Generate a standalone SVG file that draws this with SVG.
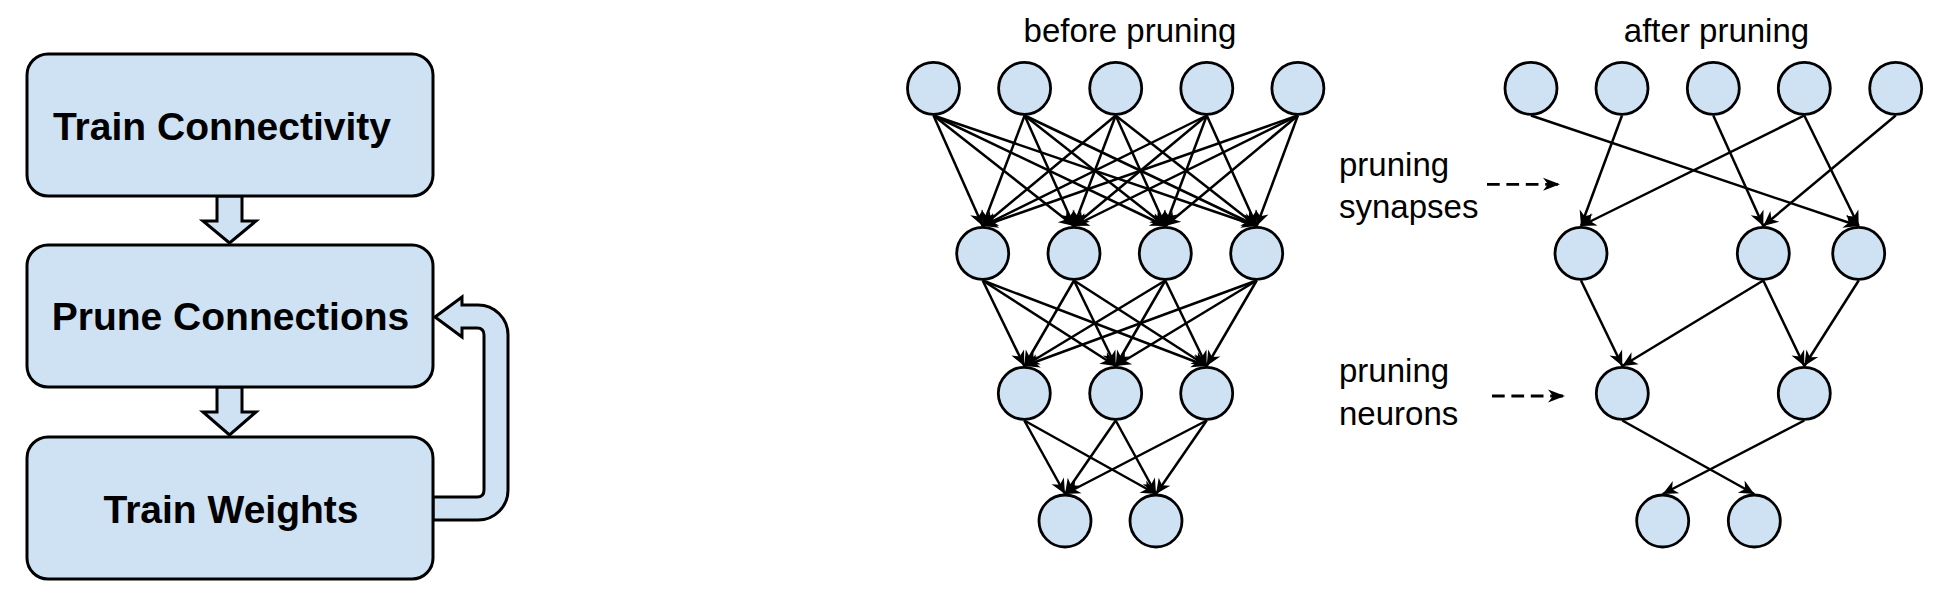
<svg xmlns="http://www.w3.org/2000/svg" width="1956" height="593" viewBox="0 0 1956 593">
<style>
.box{fill:#cfe2f3;stroke:#000;stroke-width:3}
.blk{fill:#cfe2f3;stroke:#000;stroke-width:3;stroke-linejoin:miter}
.bt{font-family:"Liberation Sans",Arial,sans-serif;font-weight:bold;font-size:39px;fill:#000;text-anchor:middle}
.lt{font-family:"Liberation Sans",Arial,sans-serif;font-size:33px;fill:#000}
.n{fill:#cfe2f3;stroke:#000;stroke-width:2.8}
.e{stroke:#000;stroke-width:2.5;fill:none;marker-end:url(#ah)}
.d{stroke:#000;stroke-width:2.8;fill:none;stroke-dasharray:12.7 6.7;marker-end:url(#dh)}
</style>
<defs>
<marker id="ah" viewBox="-16 -8 17 16" markerWidth="17" markerHeight="16" refX="0" refY="0" orient="auto" markerUnits="userSpaceOnUse">
<path d="M0,0 L-15,-7 L-10.5,0 L-15,7 Z" fill="#000"/>
</marker>
<marker id="dh" viewBox="-19 -8 20 16" markerWidth="20" markerHeight="16" refX="0" refY="0" orient="auto" markerUnits="userSpaceOnUse">
<path d="M0,0 L-17,-6.5 L-12,0 L-17,6.5 Z" fill="#000"/>
</marker>
</defs>
<rect width="1956" height="593" fill="#fff"/>

<g id="flow-arrows">
<path class="blk" d="M433 497 L477 497 Q484 497 484 490 L484 335 Q484 328 477 328 L462 328 L462 337 L435 317 L462 297 L462 305 L478 305 A30 30 0 0 1 508 335 L508 490 A30 30 0 0 1 478 520 L433 520 Z"/>
<polygon class="blk" points="217,196 242,196 242,221 256,221 229.5,243 203,221 217,221"/>
<polygon class="blk" points="217,387 242,387 242,412 256,412 229.5,435 203,412 217,412"/>
</g>
<g id="box-train-connectivity">
<rect class="box" x="27" y="54" width="406" height="142" rx="21"/>
<text class="bt" x="222" y="139.5">Train Connectivity</text>
</g>
<g id="box-prune-connections">
<rect class="box" x="27" y="245" width="406" height="142" rx="21"/>
<text class="bt" x="230.5" y="330">Prune Connections</text>
</g>
<g id="box-train-weights">
<rect class="box" x="27" y="437" width="406" height="142" rx="21"/>
<text class="bt" x="231" y="523">Train Weights</text>
</g>

<g id="labels">
<text class="lt" x="1130" y="41.5" text-anchor="middle">before pruning</text>
<text class="lt" x="1716.5" y="41.5" text-anchor="middle">after pruning</text>
<text class="lt" x="1339" y="176">pruning</text>
<text class="lt" x="1339" y="218">synapses</text>
<text class="lt" x="1339" y="382">pruning</text>
<text class="lt" x="1339" y="425">neurons</text>
</g>

<g id="connectors">
<line class="e" x1="933.5" y1="115.5" x2="982.7" y2="226"/>
<line class="e" x1="933.5" y1="115.5" x2="1074" y2="226"/>
<line class="e" x1="933.5" y1="115.5" x2="1165.3" y2="226"/>
<line class="e" x1="933.5" y1="115.5" x2="1256.7" y2="226"/>
<line class="e" x1="1024.6" y1="115.5" x2="982.7" y2="226"/>
<line class="e" x1="1024.6" y1="115.5" x2="1074" y2="226"/>
<line class="e" x1="1024.6" y1="115.5" x2="1165.3" y2="226"/>
<line class="e" x1="1024.6" y1="115.5" x2="1256.7" y2="226"/>
<line class="e" x1="1115.7" y1="115.5" x2="982.7" y2="226"/>
<line class="e" x1="1115.7" y1="115.5" x2="1074" y2="226"/>
<line class="e" x1="1115.7" y1="115.5" x2="1165.3" y2="226"/>
<line class="e" x1="1115.7" y1="115.5" x2="1256.7" y2="226"/>
<line class="e" x1="1206.8" y1="115.5" x2="982.7" y2="226"/>
<line class="e" x1="1206.8" y1="115.5" x2="1074" y2="226"/>
<line class="e" x1="1206.8" y1="115.5" x2="1165.3" y2="226"/>
<line class="e" x1="1206.8" y1="115.5" x2="1256.7" y2="226"/>
<line class="e" x1="1297.9" y1="115.5" x2="982.7" y2="226"/>
<line class="e" x1="1297.9" y1="115.5" x2="1074" y2="226"/>
<line class="e" x1="1297.9" y1="115.5" x2="1165.3" y2="226"/>
<line class="e" x1="1297.9" y1="115.5" x2="1256.7" y2="226"/>
<line class="e" x1="982.7" y1="280.5" x2="1024.3" y2="366"/>
<line class="e" x1="982.7" y1="280.5" x2="1115.7" y2="366"/>
<line class="e" x1="982.7" y1="280.5" x2="1206.7" y2="366"/>
<line class="e" x1="1074" y1="280.5" x2="1024.3" y2="366"/>
<line class="e" x1="1074" y1="280.5" x2="1115.7" y2="366"/>
<line class="e" x1="1074" y1="280.5" x2="1206.7" y2="366"/>
<line class="e" x1="1165.3" y1="280.5" x2="1024.3" y2="366"/>
<line class="e" x1="1165.3" y1="280.5" x2="1115.7" y2="366"/>
<line class="e" x1="1165.3" y1="280.5" x2="1206.7" y2="366"/>
<line class="e" x1="1256.7" y1="280.5" x2="1024.3" y2="366"/>
<line class="e" x1="1256.7" y1="280.5" x2="1115.7" y2="366"/>
<line class="e" x1="1256.7" y1="280.5" x2="1206.7" y2="366"/>
<line class="e" x1="1024.3" y1="420.5" x2="1065" y2="494"/>
<line class="e" x1="1024.3" y1="420.5" x2="1156" y2="494"/>
<line class="e" x1="1115.7" y1="420.5" x2="1065" y2="494"/>
<line class="e" x1="1115.7" y1="420.5" x2="1156" y2="494"/>
<line class="e" x1="1206.7" y1="420.5" x2="1065" y2="494"/>
<line class="e" x1="1206.7" y1="420.5" x2="1156" y2="494"/>
<line class="e" x1="1531" y1="115.5" x2="1858.7" y2="226"/>
<line class="e" x1="1622" y1="115.5" x2="1581" y2="226"/>
<line class="e" x1="1713.3" y1="115.5" x2="1763.3" y2="226"/>
<line class="e" x1="1804.3" y1="115.5" x2="1581" y2="226"/>
<line class="e" x1="1804.3" y1="115.5" x2="1858.7" y2="226"/>
<line class="e" x1="1895.7" y1="115.5" x2="1763.3" y2="226"/>
<line class="e" x1="1581" y1="280.5" x2="1622.3" y2="366"/>
<line class="e" x1="1763.3" y1="280.5" x2="1622.3" y2="366"/>
<line class="e" x1="1763.3" y1="280.5" x2="1804.3" y2="366"/>
<line class="e" x1="1858.7" y1="280.5" x2="1804.3" y2="366"/>
<line class="e" x1="1622.3" y1="420.5" x2="1754.3" y2="494"/>
<line class="e" x1="1804.3" y1="420.5" x2="1662.7" y2="494"/>
<line class="d" x1="1487" y1="184.3" x2="1560" y2="184.3"/>
<line class="d" x1="1492" y1="396" x2="1565" y2="396"/>
</g>

<g id="before-l1-n1"><circle class="n" cx="933.5" cy="88.3" r="26"/></g>
<g id="before-l1-n2"><circle class="n" cx="1024.6" cy="88.3" r="26"/></g>
<g id="before-l1-n3"><circle class="n" cx="1115.7" cy="88.3" r="26"/></g>
<g id="before-l1-n4"><circle class="n" cx="1206.8" cy="88.3" r="26"/></g>
<g id="before-l1-n5"><circle class="n" cx="1297.9" cy="88.3" r="26"/></g>
<g id="before-l2-n1"><circle class="n" cx="982.7" cy="253.3" r="26"/></g>
<g id="before-l2-n2"><circle class="n" cx="1074" cy="253.3" r="26"/></g>
<g id="before-l2-n3"><circle class="n" cx="1165.3" cy="253.3" r="26"/></g>
<g id="before-l2-n4"><circle class="n" cx="1256.7" cy="253.3" r="26"/></g>
<g id="before-l3-n1"><circle class="n" cx="1024.3" cy="393.3" r="26"/></g>
<g id="before-l3-n2"><circle class="n" cx="1115.7" cy="393.3" r="26"/></g>
<g id="before-l3-n3"><circle class="n" cx="1206.7" cy="393.3" r="26"/></g>
<g id="before-l4-n1"><circle class="n" cx="1065" cy="521" r="26"/></g>
<g id="before-l4-n2"><circle class="n" cx="1156" cy="521" r="26"/></g>

<g id="after-l1-n1"><circle class="n" cx="1531" cy="88.3" r="26"/></g>
<g id="after-l1-n2"><circle class="n" cx="1622" cy="88.3" r="26"/></g>
<g id="after-l1-n3"><circle class="n" cx="1713.3" cy="88.3" r="26"/></g>
<g id="after-l1-n4"><circle class="n" cx="1804.3" cy="88.3" r="26"/></g>
<g id="after-l1-n5"><circle class="n" cx="1895.7" cy="88.3" r="26"/></g>
<g id="after-l2-n1"><circle class="n" cx="1581" cy="253.3" r="26"/></g>
<g id="after-l2-n2"><circle class="n" cx="1763.3" cy="253.3" r="26"/></g>
<g id="after-l2-n3"><circle class="n" cx="1858.7" cy="253.3" r="26"/></g>
<g id="after-l3-n1"><circle class="n" cx="1622.3" cy="393.3" r="26"/></g>
<g id="after-l3-n2"><circle class="n" cx="1804.3" cy="393.3" r="26"/></g>
<g id="after-l4-n1"><circle class="n" cx="1662.7" cy="521" r="26"/></g>
<g id="after-l4-n2"><circle class="n" cx="1754.3" cy="521" r="26"/></g>
</svg>
